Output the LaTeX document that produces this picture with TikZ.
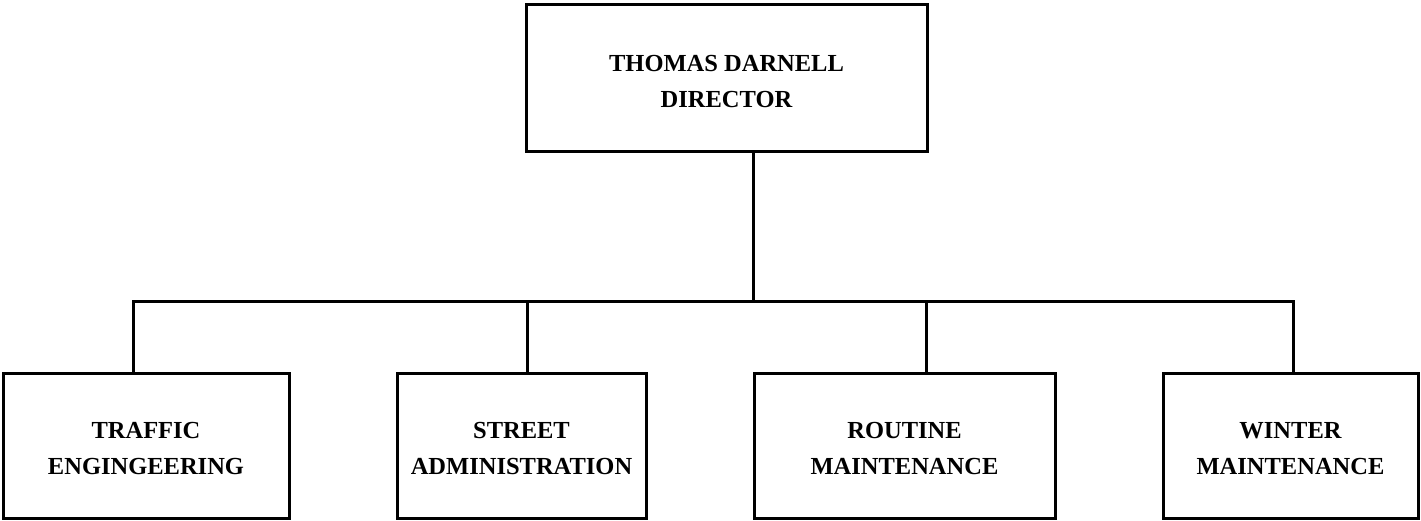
\documentclass[tikz,border=0pt]{standalone}
\usepackage{fontspec}
\setmainfont{Liberation Serif}
\begin{document}
\begin{tikzpicture}[x=1pt,y=-1pt,
  orgbox/.style={draw, line width=3pt, rectangle, inner sep=0pt, minimum height=145pt,
    label={[align=center, yshift=-3pt, font=\fontsize{24.5}{35.5}\selectfont\bfseries]center:#1}},
  link/.style={line width=3pt, line join=miter}]
  \useasboundingbox (0,0) rectangle (1421,521);

  % director
  \node[orgbox={THOMAS DARNELL\\DIRECTOR}, minimum width=401pt, minimum height=147pt]
    (top) at (726.5,78.5) {};

  % divisions
  \node[orgbox={TRAFFIC\\ENGINGEERING},   minimum width=286pt] (traffic) at (146,445.5) {};
  \node[orgbox={STREET\\ADMINISTRATION},  minimum width=249pt] (street)  at (521.5,445.5) {};
  \node[orgbox={ROUTINE\\MAINTENANCE},    minimum width=301pt] (routine) at (904.5,445.5) {};
  \node[orgbox={WINTER\\MAINTENANCE},     minimum width=255pt] (winter)  at (1290.5,445.5) {};

  % bus line and drop points
  \coordinate (bus) at (753,301);
  \coordinate (d1) at (133,301);
  \coordinate (d2) at (527,301);
  \coordinate (d3) at (926,301);
  \coordinate (d4) at (1293,301);

  \draw[link] (top.south -| bus) -- (bus);
  \draw[link] (d1 |- traffic.north) -- (d1) -- (d4) -- (d4 |- winter.north);
  \draw[link] (d2) -- (d2 |- street.north);
  \draw[link] (d3) -- (d3 |- routine.north);
\end{tikzpicture}
\end{document}
